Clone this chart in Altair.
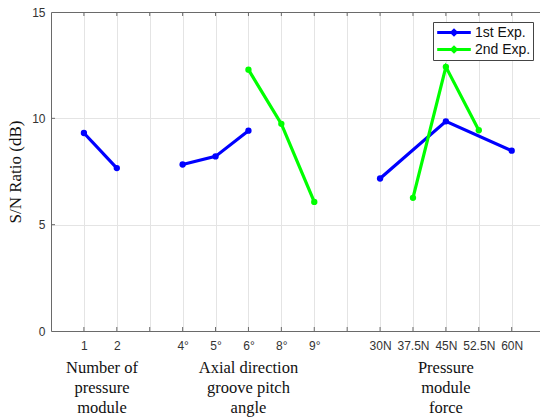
import json
import altair as alt
import pandas as pd

# ---- data ----
tick_labels = ["", "1", "2", "", "4°", "5°", "6°", "8°", "9°", "",
               "30N", "37.5N", "45N", "52.5N", "60N"]
tick_positions = list(range(1, 15))

exp1_pos = [1, 2, 4, 5, 6, 10, 12, 14]
exp1_val = [9.31, 7.66, 7.83, 8.21, 9.42, 7.17, 9.86, 8.48]
exp1_seg = ["A", "A", "B", "B", "B", "C", "C", "C"]

exp2_pos = [6, 7, 8, 11, 12, 13]
exp2_val = [12.29, 9.74, 6.07, 6.26, 12.42, 9.44]
exp2_seg = ["B", "B", "B", "C", "C", "C"]

series_names = ["1st Exp.", "2nd Exp."]
series_colors = ["#0000FF", "#00FF00"]

group_titles = ["Number of\npressure\nmodule",
                "Axial direction\ngroove pitch\nangle",
                "Pressure\nmodule\nforce"]
group_centers = [1.55, 6.0, 12.0]

y_ticks = [0, 5, 10, 15]

# ---- tables ----
df = pd.concat([
    pd.DataFrame({"pos": exp1_pos, "val": exp1_val, "seg": exp1_seg,
                  "series": series_names[0]}),
    pd.DataFrame({"pos": exp2_pos, "val": exp2_val, "seg": exp2_seg,
                  "series": series_names[1]}),
], ignore_index=True)
df["key"] = df["series"] + "-" + df["seg"]

titles_df = pd.DataFrame({"pos": group_centers, "title": group_titles})
ticks_df = pd.DataFrame({"pos": tick_positions})
yticks_df = pd.DataFrame({"val": [5, 10]})

W, H = 489, 319
XMAX = 14.86
AXC = "#6a6a6a"
label_expr = json.dumps(tick_labels, ensure_ascii=False) + "[datum.value]"

xscale = alt.Scale(domain=[0, XMAX], nice=False, zero=False)
yscale = alt.Scale(domain=[0, 15], nice=False)

color = alt.Color("series:N",
                  scale=alt.Scale(domain=series_names, range=series_colors),
                  legend=alt.Legend(
                      title=None, orient="none", legendX=382, legendY=10,
                      strokeColor="#444", fillColor="white", padding=2,
                      symbolType="M-2.4,0H2.4M-0.32,0L0,-0.32L0.32,0L0,0.32Z",
                      symbolSize=196, symbolStrokeWidth=3,
                      symbolOffset=10.5,
                      labelFont="Liberation Sans", labelFontSize=14,
                      labelColor="#111", rowPadding=0, labelOffset=12.5,
                      cornerRadius=0))

bottom_axis = alt.Axis(values=tick_positions, labelExpr=label_expr,
                       title=None, orient="bottom", ticks=False,
                       labelPadding=9, labelFont="Liberation Sans",
                       labelFontSize=12, labelColor="#333",
                       domainColor=AXC, grid=True, gridColor="#e4e4e4",
                       labelFlush=False)
top_axis = alt.Axis(values=tick_positions, labels=False, ticks=False,
                    orient="top", title=None, grid=False,
                    domainColor=AXC)
left_axis = alt.Axis(values=y_ticks, title="S/N Ratio (dB)", ticks=False,
                     labelPadding=6, labelFont="Liberation Sans",
                     labelFontSize=12, labelColor="#333",
                     titleFont="Liberation Serif", titleFontSize=17,
                     titleFontWeight="normal", titleColor="#111",
                     titlePadding=7, domainColor=AXC, grid=True,
                     gridColor="#e4e4e4")

Y = alt.Y("val:Q", scale=yscale, axis=left_axis)

lines = alt.Chart(df).mark_line(strokeWidth=3.2).encode(
    x=alt.X("pos:Q", scale=xscale, axis=bottom_axis),
    y=Y,
    color=color,
    detail="key:N",
)

points = alt.Chart(df).mark_point(filled=True, size=40, opacity=1).encode(
    x=alt.X("pos:Q", scale=xscale, axis=None),
    y=Y,
    color=alt.Color("series:N",
                    scale=alt.Scale(domain=series_names, range=series_colors),
                    legend=None),
)

btm_ticks = alt.Chart(ticks_df).mark_rule(color=AXC, strokeWidth=1).encode(
    x=alt.X("pos:Q", scale=xscale, axis=top_axis),
    y=alt.value(H), y2=alt.value(H - 4),
)
top_ticks = alt.Chart(ticks_df).mark_rule(color=AXC, strokeWidth=1).encode(
    x=alt.X("pos:Q", scale=xscale, axis=None),
    y=alt.value(0), y2=alt.value(4),
)
left_ticks = alt.Chart(yticks_df).mark_rule(color=AXC, strokeWidth=1).encode(
    y=alt.Y("val:Q", scale=yscale, axis=left_axis),
    x=alt.value(0), x2=alt.value(4),
)

titles = alt.Chart(titles_df).mark_text(
    lineBreak="\n", font="Liberation Serif", fontSize=16.5, lineHeight=20,
    baseline="top", align="center", color="#111"
).encode(
    x=alt.X("pos:Q", scale=xscale, axis=None),
    y=alt.value(348),
    text="title:N",
)

chart = alt.layer(lines, points, btm_ticks, top_ticks, left_ticks, titles).resolve_axis(
    x="independent"
).properties(
    width=W, height=H,
    autosize=alt.AutoSizeParams(type="none"),
    padding={"left": 51, "top": 12, "right": 0, "bottom": 88},
    background="white",
).configure_view(stroke=None)

chart.save("out.html", embed_options={"renderer": "svg", "actions": False})
